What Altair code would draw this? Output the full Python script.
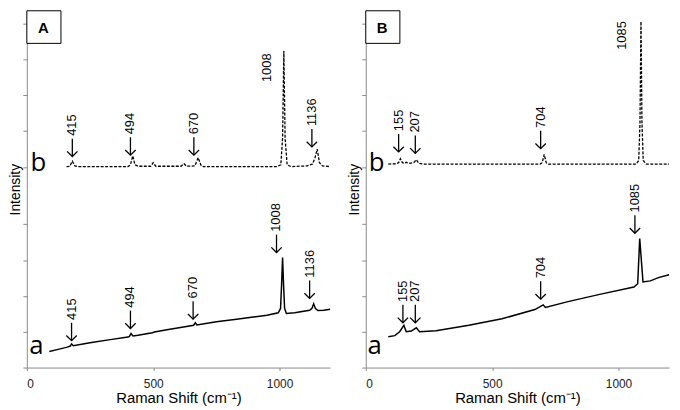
import altair as alt
import pandas as pd

# ---------------- Panel A ----------------
# spectrum b (dashed, upper)
A_b_x = [157, 170, 180, 190, 200, 400, 410, 419, 428, 440, 490, 500, 510, 610, 622, 632,
         665, 678, 690, 700, 990, 1005, 1012, 1017, 1022, 1030, 1045, 1110, 1130, 1140,
         1149, 1158, 1170, 1200]
A_b_y = [5.61, 5.62, 5.76, 5.63, 5.61, 5.61, 5.66, 5.91, 5.66, 5.62, 5.62, 5.72, 5.62, 5.62,
         5.69, 5.62, 5.63, 5.86, 5.63, 5.61, 5.61, 5.66, 6.4, 8.84, 6.4, 5.66, 5.61, 5.63,
         5.68, 5.85, 6.10, 5.72, 5.63, 5.61]
# spectrum a (solid, lower)
A_a_x = [89, 120, 160, 172, 177, 184, 250, 330, 400, 406, 412, 420, 440, 497, 505, 560, 620,
         660, 667, 673, 750, 830, 896, 950, 995, 1004, 1008, 1012, 1016, 1020, 1027, 1060,
         1119, 1128, 1135, 1142, 1152, 1175, 1200]
A_a_y = [0.45, 0.50, 0.57, 0.60, 0.66, 0.61, 0.69, 0.78, 0.85, 0.87, 0.95, 0.88, 0.90, 0.97,
         0.99, 1.06, 1.13, 1.18, 1.25, 1.19, 1.28, 1.35, 1.41, 1.46, 1.53, 1.65, 2.3, 3.07,
         2.3, 1.65, 1.51, 1.53, 1.60, 1.65, 1.78, 1.65, 1.59, 1.60, 1.63]
# arrow-marked peak labels (arrow tip position)
A_lab_text = ["415", "494", "670", "1136", "415", "494", "670", "1008", "1136"]
A_lab_x = [180, 410, 661, 1128, 177, 410, 658, 988, 1119]
A_lab_y = [5.89, 5.93, 5.93, 6.16, 0.75, 1.09, 1.35, 3.21, 1.93]
# label without arrow
A_plain_text = ["1008"]
A_plain_x = [949]
A_plain_y = [7.97]

# ---------------- Panel B ----------------
B_b_x = [89, 120, 130, 137, 145, 151, 160, 170, 190, 200, 210, 230, 690, 698, 706, 714, 722,
         1070, 1080, 1085, 1089, 1093, 1098, 1110, 1200]
B_b_y = [5.68, 5.69, 5.72, 5.83, 5.72, 5.70, 5.73, 5.70, 5.72, 5.80, 5.70, 5.68, 5.68, 5.72,
         5.95, 5.72, 5.68, 5.68, 5.78, 6.8, 9.66, 6.8, 5.78, 5.68, 5.68]
B_a_x = [89, 115, 134, 151, 160, 180, 200, 213, 278, 408, 539, 669, 702, 711, 800, 930, 1061,
         1076, 1084, 1097, 1126, 1158, 1200]
B_a_y = [0.86, 0.89, 1.0, 1.18, 1.0, 1.02, 1.11, 1.0, 1.03, 1.18, 1.36, 1.62, 1.75, 1.68,
         1.84, 2.05, 2.25, 2.34, 3.6, 2.39, 2.42, 2.51, 2.59]
B_lab_text = ["155", "207", "704", "155", "207", "704", "1085"]
B_lab_x = [130, 196, 692, 147, 196, 692, 1065]
B_lab_y = [6.02, 5.98, 6.11, 1.25, 1.25, 1.91, 3.75]
B_plain_text = ["1085"]
B_plain_x = [1015]
B_plain_y = [8.87]

curve_names = ["b", "a"]
A_curve_x = [46, 38]
B_curve_x = [43, 35]
curve_y = [5.48, 0.39]

y_ticks = [0, 1, 2, 3, 4, 5.6, 6.6, 7.6, 8.6, 9.6]
x_ticks = [0, 500, 1000]
Y_TOP = 9.96
ARROW_LEN = 0.5
TEXT_GAP = 0.58
AXIS_GRAY = "#8a8a8a"


def xenc(field="x"):
    return alt.X(f"{field}:Q",
                 scale=alt.Scale(domain=[0, 1200], nice=False, zero=False),
                 axis=alt.Axis(values=x_ticks, format="d", title="Raman Shift (cm\u207b\u00b9)",
                               grid=False, domainColor=AXIS_GRAY, tickColor=AXIS_GRAY, tickSize=3,
                               labelFont="Liberation Sans", labelFontSize=12, labelColor="#222",
                               labelPadding=8, titleFont="Liberation Sans", titleFontSize=15,
                               titleFontWeight="normal", titleColor="#000", titlePadding=1))


def yenc(field="y"):
    return alt.Y(f"{field}:Q",
                 scale=alt.Scale(domain=[0, Y_TOP], nice=False, zero=False),
                 axis=alt.Axis(values=y_ticks, labels=False, title="Intensity", grid=False,
                               domainColor=AXIS_GRAY, tickColor=AXIS_GRAY, tickSize=4,
                               labelPadding=0,
                               titleFont="Liberation Sans", titleFontSize=14,
                               titleFontWeight="normal", titleColor="#000", titlePadding=0))


def panel(letter, bx, by, ax, ay, lt, lx, ly, pt, px, py, cx, width):
    df_b = pd.DataFrame({"x": bx, "y": by})
    df_a = pd.DataFrame({"x": ax, "y": ay})
    df_l = pd.DataFrame({"x": lx, "y": ly, "t": lt})
    df_p = pd.DataFrame({"x": px, "y": py, "t": pt})
    df_c = pd.DataFrame({"x": cx, "y": curve_y, "t": curve_names})
    df_box = pd.DataFrame({"x": [0], "x2": [135], "y": [9.05], "y2": [Y_TOP],
                           "tx": [65], "ty": [9.49], "t": [letter]})

    line_b = alt.Chart(df_b).mark_line(color="black", strokeWidth=1.3,
                                       strokeDash=[3, 1.5]).encode(x=xenc(), y=yenc())
    line_a = alt.Chart(df_a).mark_line(color="black", strokeWidth=1.5).encode(x=xenc(), y=yenc())

    lab = alt.Chart(df_l).transform_calculate(
        ytop=f"datum.y + {ARROW_LEN}", ytext=f"datum.y + {TEXT_GAP}")
    shaft = lab.mark_rule(color="black", strokeWidth=1.3).encode(
        x=xenc(), y=yenc(), y2="ytop:Q")
    head = lab.mark_point(shape="M-1,-1L0,0L1,-1", size=110, filled=False, color="black",
                          strokeWidth=1.3, opacity=1).encode(x=xenc(), y=yenc())
    nums = lab.mark_text(angle=270, align="left", baseline="middle",
                         font="Liberation Sans", fontSize=13,
                         color="black").encode(x=xenc(), y=yenc("ytext"), text="t:N")
    plain = alt.Chart(df_p).mark_text(angle=270, align="left", baseline="middle",
                                      font="Liberation Sans", fontSize=13,
                                      color="black").encode(x=xenc(), y=yenc(), text="t:N")
    curves = alt.Chart(df_c).mark_text(align="center", baseline="alphabetic",
                                       font="Open Sans", fontSize=26,
                                       color="black").encode(x=xenc(), y=yenc(), text="t:N")
    box = alt.Chart(df_box).mark_rect(fill="white", stroke="black", strokeWidth=1).encode(
        x=xenc(), x2="x2:Q", y=yenc(), y2="y2:Q")
    boxtxt = alt.Chart(df_box).mark_text(font="Liberation Sans", fontSize=15, fontWeight="bold",
                                         align="center", baseline="middle",
                                         color="black").encode(x=xenc("tx"), y=yenc("ty"),
                                                               text="t:N")
    return alt.layer(line_b, line_a, shaft, head, nums, plain, curves, box, boxtxt).properties(
        width=width, height=360)


pA = panel("A", A_b_x, A_b_y, A_a_x, A_a_y, A_lab_text, A_lab_x, A_lab_y,
           A_plain_text, A_plain_x, A_plain_y, A_curve_x, 306)
pB = panel("B", B_b_x, B_b_y, B_a_x, B_a_y, B_lab_text, B_lab_x, B_lab_y,
           B_plain_text, B_plain_x, B_plain_y, B_curve_x, 306)

chart = alt.hconcat(pA, pB, spacing=14).properties(
    padding={"left": 0, "top": 0, "right": 0, "bottom": 0}
).configure_view(stroke=None)

chart.save("out.html", embed_options={"renderer": "svg", "actions": False})
